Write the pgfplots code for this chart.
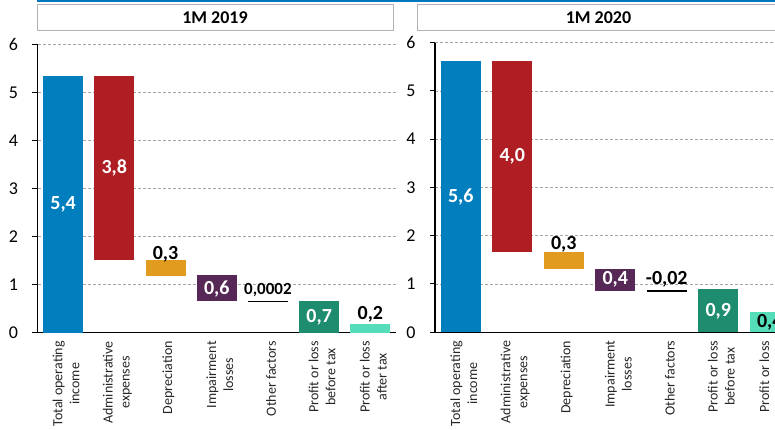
\documentclass[border=0pt]{standalone}
\usepackage{pgfplots}
\usepackage{pgfplotstable}
\pgfplotsset{compat=1.18}
\usepackage{fontspec}
\setmainfont{Carlito}
\definecolor{ctot}{RGB}{0,126,190}
\definecolor{cadm}{RGB}{175,30,35}
\definecolor{cdep}{RGB}{225,155,30}
\definecolor{cimp}{RGB}{85,40,85}
\definecolor{cpbt}{RGB}{30,140,110}
\definecolor{cpat}{RGB}{85,220,185}
\definecolor{topblue}{RGB}{0,120,190}

\pgfplotstableread{
x base tot adm dep imp oth pbt pat
0.5 0 5.35 0 0 0 0 0 0
1.5 1.51 0 3.84 0 0 0 0 0
2.5 1.19 0 0 0.32 0 0 0 0
3.5 0.65 0 0 0 0.55 0 0 0
4.5 0.63 0 0 0 0 0.04 0 0
5.5 0 0 0 0 0 0 0.66 0
6.5 0 0 0 0 0 0 0 0.18
}\leftdata

\pgfplotstableread{
x base tot adm dep imp oth pbt pat
0.5 0 5.62 0 0 0 0 0 0
1.5 1.67 0 3.95 0 0 0 0 0
2.5 1.32 0 0 0.35 0 0 0 0
3.5 0.86 0 0 0 0.46 0 0 0
4.5 0.84 0 0 0 0 0.04 0 0
5.5 0 0 0 0 0 0 0.89 0
6.5 0 0 0 0 0 0 0 0.42
}\rightdata

\tikzset{val/.style={font=\fontsize{20}{20}\selectfont\bfseries}}

\pgfplotsset{
  panel/.style={
    scale only axis,
    anchor=south west,
    ybar stacked,
    bar width=0.78,
    xmin=0, xmax=7, ymin=0, ymax=6,
    axis x line*=bottom, axis y line*=left,
    axis line style={black, line width=1.2pt},
    ytick={0,1,2,3,4,5,6},
    ymajorgrids,
    major grid style={densely dashed, gray!70, line width=0.6pt},
    xtick={0.5,1.5,2.5,3.5,4.5,5.5,6.5},
    xticklabels={{Total operating\\income},{Administrative\\expenses},Depreciation,{Impairment\\losses},Other factors,{Profit or loss\\before tax},{Profit or loss\\after tax}},
    x tick label style={rotate=90, anchor=east, align=center, font=\fontsize{14}{17}\selectfont, text=black!85, yshift=-3pt},
    extra x ticks={0,1,2,3,4,5,6,7},
    extra x tick labels={},
    extra x tick style={major tick length=5pt, tick style={black, line width=1pt}},
    xtick style={draw=none},
    tick align=outside,
    major tick length=5pt,
    ytick style={black, line width=1pt},
    y tick label style={font=\fontsize{18}{18}\selectfont, xshift=-11pt},
    /pgf/number format/assume math mode=true,
    clip=false,
  },
}

\begin{document}
\begin{tikzpicture}[x=1pt,y=1pt]
\useasboundingbox (0,0) rectangle (775,430);
\clip (0,0) rectangle (775,430);
% top blue line
\draw[topblue, line width=2pt] (37,428.8) -- (775,428.8);
\draw[topblue, line width=1pt] (37,428.8) -- (37,431);
% title boxes
\draw[gray!60, line width=1pt, fill=white] (37,399) rectangle (393,425);
\node[font=\fontsize{18}{18}\selectfont\bfseries] at (215,412) {1M 2019};
\draw[gray!60, line width=1pt, fill=white] (417,399) rectangle (781,425);
\node[font=\fontsize{18}{18}\selectfont\bfseries] at (598.5,412) {1M 2020};

\begin{axis}[panel, at={(37.5pt,97.3pt)}, width=358.5pt, height=288pt]
\addplot[draw=none, fill=none] table[x=x, y=base]{\leftdata};
\addplot[draw=none, fill=ctot] table[x=x, y=tot]{\leftdata};
\addplot[draw=none, fill=cadm] table[x=x, y=adm]{\leftdata};
\addplot[draw=none, fill=cdep] table[x=x, y=dep]{\leftdata};
\addplot[draw=none, fill=cimp] table[x=x, y=imp]{\leftdata};
\addplot[draw=none, fill=black] table[x=x, y=oth]{\leftdata};
\addplot[draw=none, fill=cpbt] table[x=x, y=pbt]{\leftdata};
\addplot[draw=none, fill=cpat] table[x=x, y=pat]{\leftdata};
\coordinate (a1) at (axis cs:0.5,2.67);
\coordinate (a2) at (axis cs:1.5,3.43);
\coordinate (a3) at (axis cs:2.5,1.64);
\coordinate (a4) at (axis cs:3.5,0.92);
\coordinate (a5) at (axis cs:4.5,0.89);
\coordinate (a6) at (axis cs:5.5,0.33);
\coordinate (a7) at (axis cs:6.5,0.38);
\end{axis}
\node[val, white] at (a1) {5,4};
\node[val, white] at (a2) {3,8};
\node[val, black] at (a3) {0,3};
\node[val, white] at (a4) {0,6};
\node[font=\fontsize{17}{17}\selectfont\bfseries, black] at (a5) {0,0002};
\node[val, white] at (a6) {0,7};
\node[val, black] at (a7) {0,2};

\begin{axis}[panel, at={(435pt,97.7pt)}, width=360.5pt, height=289.8pt]
\addplot[draw=none, fill=none] table[x=x, y=base]{\rightdata};
\addplot[draw=none, fill=ctot] table[x=x, y=tot]{\rightdata};
\addplot[draw=none, fill=cadm] table[x=x, y=adm]{\rightdata};
\addplot[draw=none, fill=cdep] table[x=x, y=dep]{\rightdata};
\addplot[draw=none, fill=cimp] table[x=x, y=imp]{\rightdata};
\addplot[draw=none, fill=black] table[x=x, y=oth]{\rightdata};
\addplot[draw=none, fill=cpbt] table[x=x, y=pbt]{\rightdata};
\addplot[draw=none, fill=cpat] table[x=x, y=pat]{\rightdata};
\coordinate (b1) at (axis cs:0.5,2.81);
\coordinate (b2) at (axis cs:1.5,3.64);
\coordinate (b3) at (axis cs:2.5,1.83);
\coordinate (b4) at (axis cs:3.5,1.09);
\coordinate (b5) at (axis cs:4.5,1.09);
\coordinate (b6) at (axis cs:5.5,0.44);
\coordinate (b7) at (axis cs:6.5,0.2);
\end{axis}
\node[val, white] at (b1) {5,6};
\node[val, white] at (b2) {4,0};
\node[val, black] at (b3) {0,3};
\node[val, white] at (b4) {0,4};
\node[val, black] at (b5) {-0,02};
\node[val, white] at (b6) {0,9};
\node[val, black] at (b7) {0,4};
\end{tikzpicture}
\end{document}
